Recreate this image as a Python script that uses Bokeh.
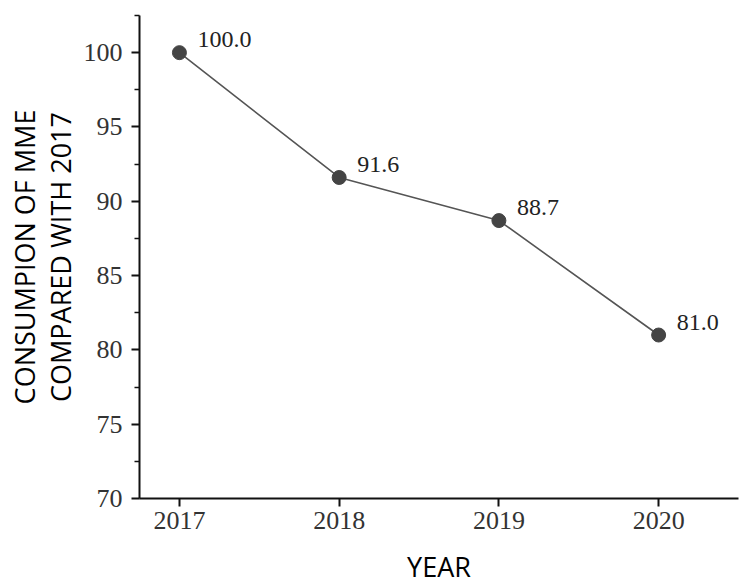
from bokeh.plotting import figure
from bokeh.models import FixedTicker, Range1d, ColumnDataSource
from bokeh.core.properties import value
from bokeh.embed import file_html
from bokeh.resources import INLINE

years = [2017, 2018, 2019, 2020]
consumption = [100.0, 91.6, 88.7, 81.0]
point_labels = ["100.0", "91.6", "88.7", "81.0"]
y_major = [70, 75, 80, 85, 90, 95, 100]
y_minor = [72.5, 77.5, 82.5, 87.5, 92.5, 97.5, 102.5]

src = ColumnDataSource(dict(x=years, y=consumption, t=point_labels))

p = figure(width=750, height=588, output_backend="svg", toolbar_location=None,
           x_range=Range1d(2016.75, 2020.5), y_range=Range1d(70, 102.5),
           min_border_left=139, min_border_right=12, min_border_top=15, min_border_bottom=90)
p.outline_line_color = None
p.xgrid.visible = False
p.ygrid.visible = False

p.line("x", "y", source=src, line_color="#555555", line_width=1.6)
p.scatter("x", "y", source=src, size=14, fill_color="#444444", line_color="#444444")
p.text("x", "y", text="t", source=src, x_offset=18, y_offset=-13,
       text_font=value("Liberation Serif"), text_font_size="24px",
       text_color="#222222", text_baseline="middle", text_align="left")

serif = "Liberation Serif"
for ax in (p.xaxis[0], p.yaxis[0]):
    ax.axis_line_color = "#111111"
    ax.axis_line_width = 2
    ax.major_tick_line_color = "#111111"
    ax.major_tick_line_width = 2
    ax.minor_tick_line_color = "#111111"
    ax.minor_tick_line_width = 1.5
    ax.major_tick_in = 0
    ax.major_tick_out = 8
    ax.minor_tick_in = 0
    ax.minor_tick_out = 5
    ax.major_label_text_font = serif
    ax.major_label_text_font_size = "26px"
    ax.major_label_text_color = "#333333"
    ax.axis_label_text_font = "Open Sans"
    ax.axis_label_text_font_size = "27px"
    ax.axis_label_text_font_style = "normal"
    ax.axis_label_text_color = "#000000"
    ax.axis_label_text_line_height = 0.95

p.xaxis.ticker = FixedTicker(ticks=years, minor_ticks=[])
p.yaxis.ticker = FixedTicker(ticks=y_major, minor_ticks=y_minor)
p.xaxis.axis_label = "YEAR"
p.yaxis.axis_label = "CONSUMPION OF MME\nCOMPARED WITH 2017"
p.xaxis.major_label_standoff = 5
p.yaxis.major_label_standoff = 9
p.xaxis.axis_label_standoff = 16
p.yaxis.axis_label_standoff = 2

open("out.html", "w").write(file_html(p, INLINE))
